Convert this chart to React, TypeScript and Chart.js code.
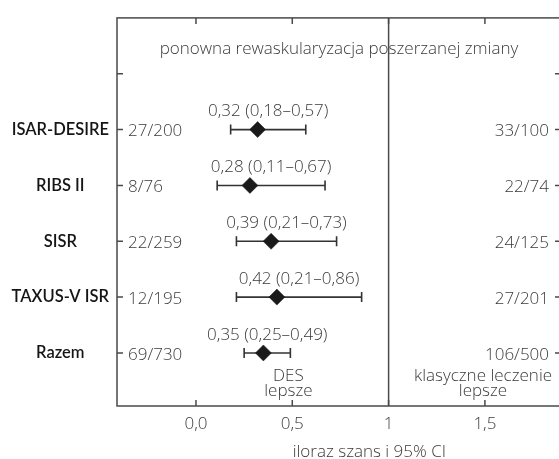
import React, { useEffect, useRef } from "react";
import { Chart, registerables } from "chart.js";

Chart.register(...registerables);

const studies = ["ISAR-DESIRE", "RIBS II", "SISR", "TAXUS-V ISR", "Razem"];
const rowPositions = [5, 4, 3, 2, 1];
const oddsRatio = [0.32, 0.28, 0.39, 0.42, 0.35];
const ciLower = [0.18, 0.11, 0.21, 0.21, 0.25];
const ciUpper = [0.57, 0.67, 0.73, 0.86, 0.49];
const desCounts = ["27/200", "8/76", "22/259", "12/195", "69/730"];
const controlCounts = ["33/100", "22/74", "24/125", "27/201", "106/500"];
const xTickValues = [0, 0.5, 1, 1.5];
const xTickLabels = ["0,0", "0,5", "1", "1,5"];
const yTickValues = [1, 2, 3, 4, 5, 6];
const headerText = "ponowna rewaskularyzacja poszerzanej zmiany";
const xTitle = "iloraz szans i 95% CI";
const leftFavours = ["DES", "lepsze"];
const rightFavours = ["klasyczne leczenie", "lepsze"];
const referenceValue = 1;

const fmt = (v: number) => v.toFixed(2).replace(".", ",");

const FRAME = "#4a4a4a";
const TEXT = "#3a3a3a";
const LIGHT_FONT = "300 17px 'Open Sans'";

const forestPlugin = {
  id: "forest",
  beforeDatasetsDraw(chart: any) {
    const { ctx, chartArea: a, scales } = chart;
    const x = scales.x;
    const y = scales.y;
    ctx.save();
    ctx.strokeStyle = FRAME;
    ctx.lineWidth = 1.5;
    ctx.strokeRect(a.left, a.top, a.right - a.left, a.bottom - a.top);
    // reference line
    const xr = x.getPixelForValue(referenceValue);
    ctx.beginPath();
    ctx.moveTo(xr, a.top);
    ctx.lineTo(xr, a.bottom);
    ctx.stroke();
    // inward tick marks
    const tl = 6;
    ctx.beginPath();
    xTickValues.forEach((v) => {
      const px = x.getPixelForValue(v);
      ctx.moveTo(px, a.bottom);
      ctx.lineTo(px, a.bottom - tl);
      ctx.moveTo(px, a.top);
      ctx.lineTo(px, a.top + tl);
    });
    yTickValues.forEach((v) => {
      const py = y.getPixelForValue(v);
      ctx.moveTo(a.left, py);
      ctx.lineTo(a.left + tl, py);
      ctx.moveTo(a.right, py);
      ctx.lineTo(a.right - tl, py);
    });
    ctx.stroke();
    // whiskers
    ctx.strokeStyle = "#333333";
    ctx.lineWidth = 1.6;
    rowPositions.forEach((r, i) => {
      const py = y.getPixelForValue(r);
      const x1 = x.getPixelForValue(ciLower[i]);
      const x2 = x.getPixelForValue(ciUpper[i]);
      ctx.beginPath();
      ctx.moveTo(x1, py);
      ctx.lineTo(x2, py);
      ctx.moveTo(x1, py - 5);
      ctx.lineTo(x1, py + 5);
      ctx.moveTo(x2, py - 5);
      ctx.lineTo(x2, py + 5);
      ctx.stroke();
    });
    ctx.restore();
  },
  afterDatasetsDraw(chart: any) {
    const { ctx, chartArea: a, scales } = chart;
    const x = scales.x;
    const y = scales.y;
    ctx.save();
    ctx.fillStyle = TEXT;
    ctx.font = LIGHT_FONT;
    ctx.textBaseline = "middle";
    // header
    ctx.textAlign = "center";
    ctx.fillText(headerText, (a.left + a.right) / 2, y.getPixelForValue(6.5) + 3);
    rowPositions.forEach((r, i) => {
      const py = y.getPixelForValue(r);
      ctx.textAlign = "left";
      ctx.fillText(desCounts[i], a.left + 11, py + 2);
      ctx.textAlign = "right";
      ctx.fillText(controlCounts[i], a.right - 12, py + 2);
      ctx.textAlign = "center";
      const mid = x.getPixelForValue((ciLower[i] + ciUpper[i]) / 2);
      ctx.fillText(
        `${fmt(oddsRatio[i])} (${fmt(ciLower[i])}–${fmt(ciUpper[i])})`,
        mid,
        py - 18
      );
    });
    const yf = y.getPixelForValue(0.6) + 1;
    ctx.textAlign = "center";
    leftFavours.forEach((t, k) => {
      ctx.fillText(t, x.getPixelForValue(0.48), yf + k * 15);
    });
    rightFavours.forEach((t, k) => {
      ctx.fillText(t, x.getPixelForValue(1.49), yf + k * 15);
    });
    // axis title
    ctx.fillText(xTitle, x.getPixelForValue(0.9), a.bottom + 46);
    ctx.restore();
  },
};

export default function App() {
  const canvasRef = useRef<HTMLCanvasElement | null>(null);

  useEffect(() => {
    if (!canvasRef.current) return;
    const chart = new Chart(canvasRef.current, {
      type: "scatter",
      data: {
        datasets: [
          {
            label: "OR",
            data: rowPositions.map((r, i) => ({ x: oddsRatio[i], y: r })),
            pointStyle: "rectRot",
            pointRadius: 8,
            pointHoverRadius: 8,
            backgroundColor: "#1a1a1a",
            borderColor: "#1a1a1a",
            borderWidth: 0.5,
          },
        ],
      },
      options: {
        animation: false,
        responsive: true,
        maintainAspectRatio: false,
        events: [],
        layout: { autoPadding: false, padding: { top: 15, right: 5, left: 0, bottom: 0 } },
        plugins: {
          legend: { display: false },
          tooltip: { enabled: false },
          title: { display: false },
        },
        scales: {
          x: {
            type: "linear",
            min: -0.41,
            max: 1.895,
            grid: { display: false, drawTicks: false },
            border: { display: false },
            afterBuildTicks: (scale: any) => {
              scale.ticks = xTickValues.map((v) => ({ value: v }));
            },
            afterFit: (scale: any) => {
              scale.height = 53;
            },
            ticks: {
              autoSkip: false,
              maxRotation: 0,
              padding: 8,
              color: TEXT,
              font: { family: "'Open Sans'", size: 17, weight: "300" },
              callback: (v: any) => {
                const i = xTickValues.indexOf(Number(v));
                return i >= 0 ? xTickLabels[i] : "";
              },
            },
          },
          y: {
            type: "linear",
            min: 0.05,
            max: 7,
            grid: { display: false, drawTicks: false },
            border: { display: false },
            afterBuildTicks: (scale: any) => {
              scale.ticks = yTickValues.map((v) => ({ value: v }));
            },
            afterFit: (scale: any) => {
              scale.width = 117;
            },
            ticks: {
              autoSkip: false,
              crossAlign: "center",
              padding: 8,
              color: "#151515",
              font: { family: "Lato", size: 16.5, weight: "600" },
              callback: (v: any) => {
                const i = rowPositions.indexOf(Number(v));
                return i >= 0 ? studies[i] : "";
              },
            },
          },
        },
      },
      plugins: [forestPlugin],
    } as any);
    return () => chart.destroy();
  }, []);

  return (
    <div
      style={{
        position: "fixed",
        left: 0,
        top: 0,
        width: 559,
        height: 459,
        overflow: "hidden",
        background: "#fff",
      }}
    >
      <div style={{ position: "relative", width: 566, height: 459 }}>
        <canvas ref={canvasRef} />
      </div>
    </div>
  );
}
